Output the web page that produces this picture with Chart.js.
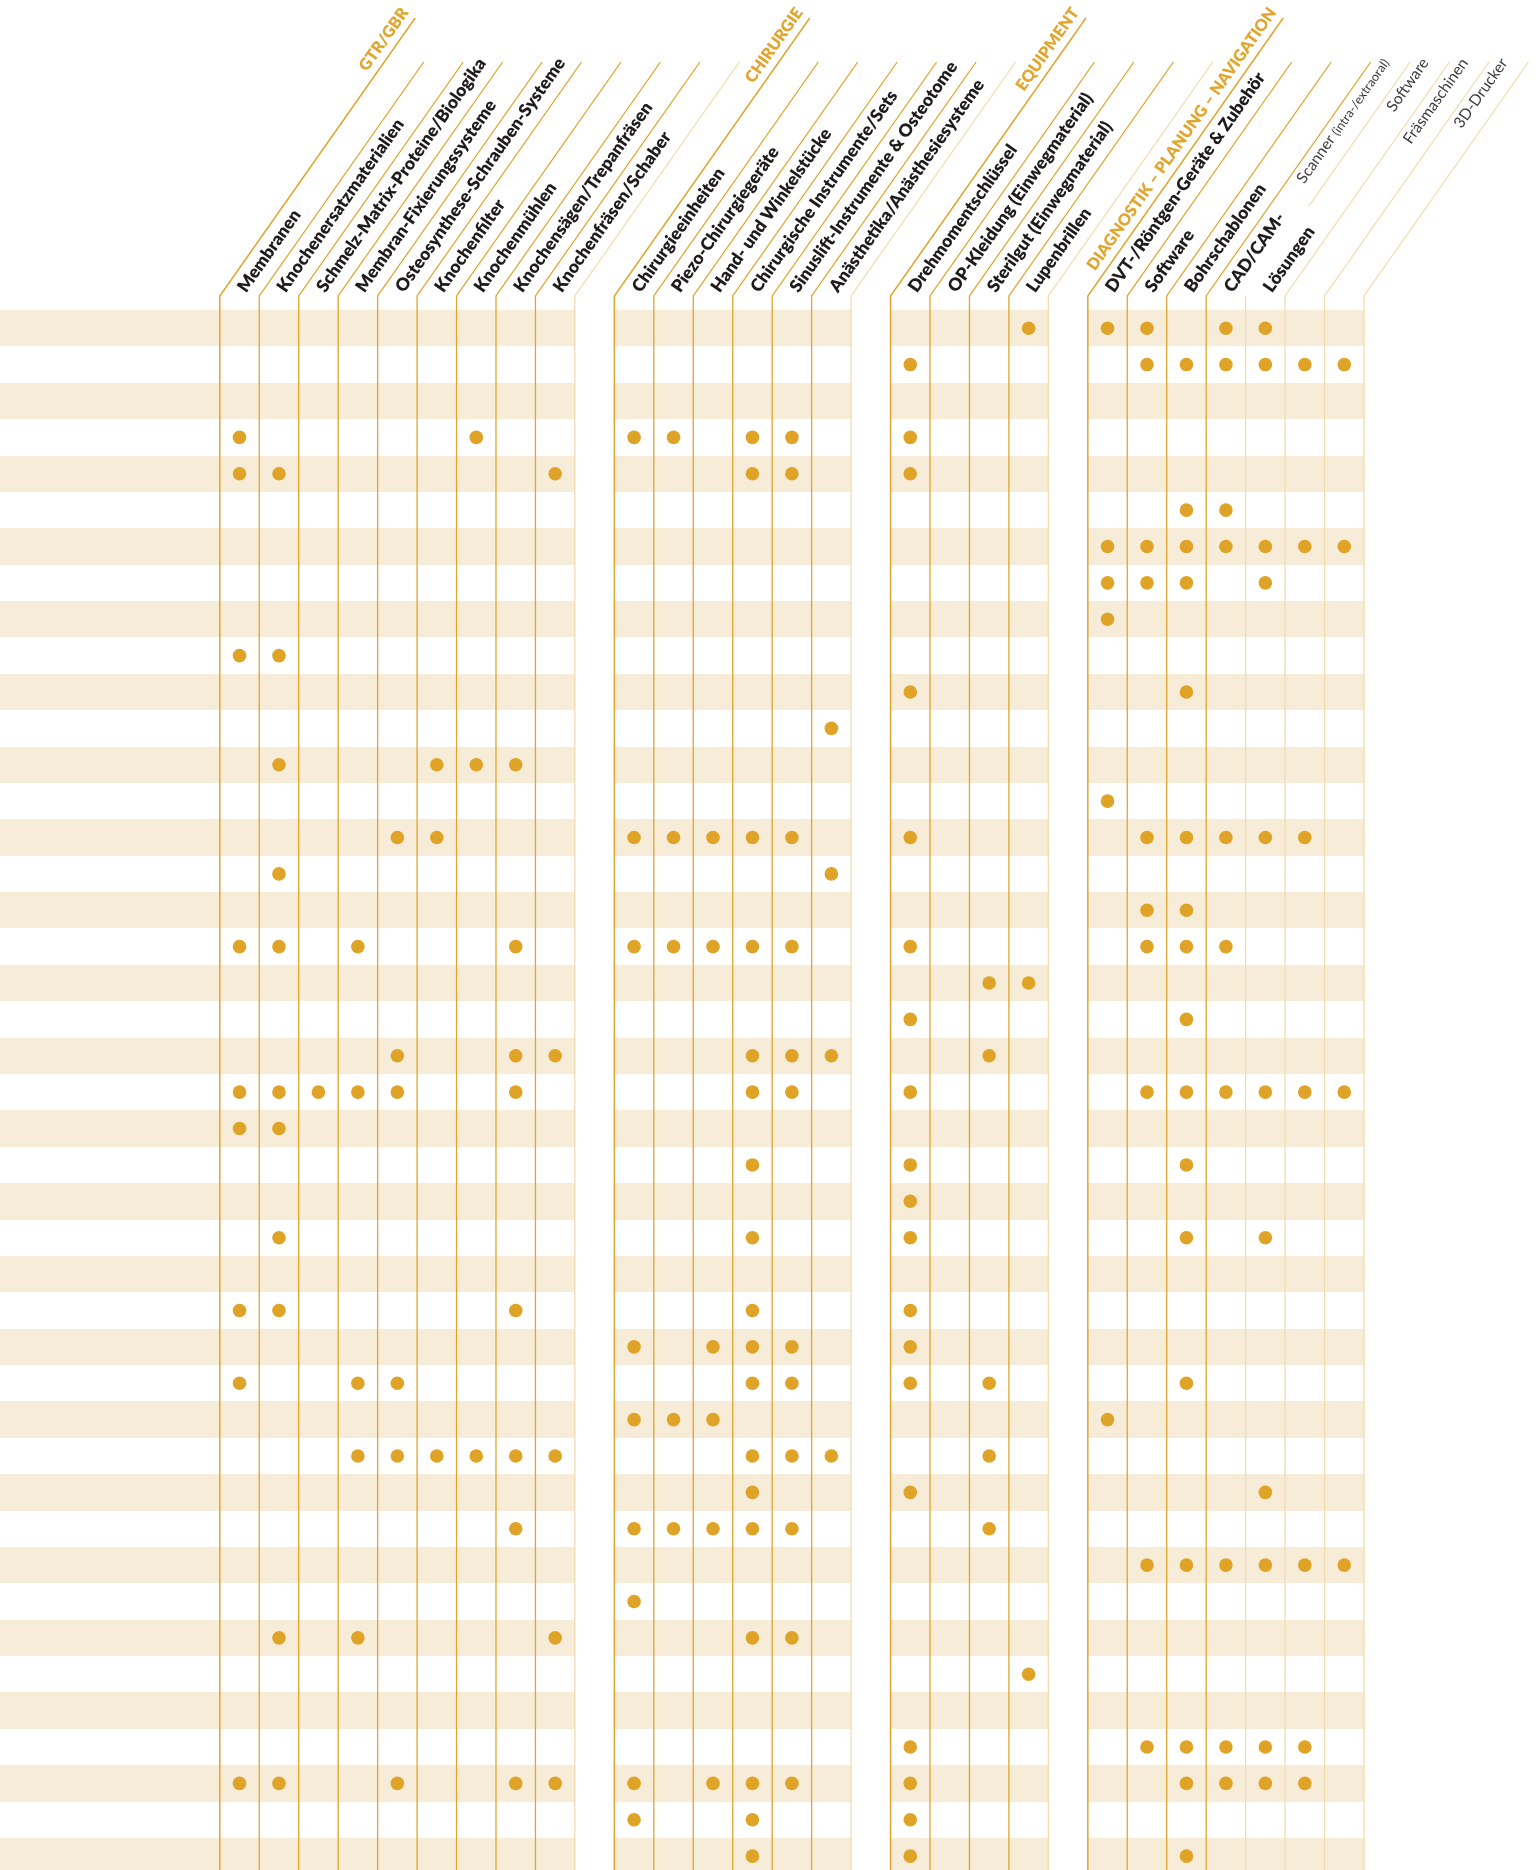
<!DOCTYPE html>
<html>
<head>
<meta charset="utf-8">
<script src="https://cdn.jsdelivr.net/npm/chart.js@4.4.1/dist/chart.umd.min.js"></script>
<style>
html,body{margin:0;padding:0;background:#fff;}
canvas{display:block;}
</style>
</head>
<body>
<canvas id="c" width="1539" height="1870"></canvas>
<script>
// ---------- DATA ----------
const groupNames = ['GTR/GBR', 'CHIRURGIE', 'EQUIPMENT', 'DIAGNOSTIK – PLANUNG – NAVIGATION'];
const groupSizes = [9, 6, 4, 7];
const columnLabels = [
  'Membranen', 'Knochenersatzmaterialien', 'Schmelz-Matrix-Proteine/Biologika', 'Membran-Fixierungssysteme',
  'Osteosynthese-Schrauben-Systeme', 'Knochenfilter', 'Knochenmühlen', 'Knochensägen/Trepanfräsen', 'Knochenfräsen/Schaber',
  'Chirurgieeinheiten', 'Piezo-Chirurgiegeräte', 'Hand- und Winkelstücke', 'Chirurgische Instrumente/Sets',
  'Sinuslift-Instrumente & Osteotome', 'Anästhetika/Anästhesiesysteme',
  'Drehmomentschlüssel', 'OP-Kleidung (Einwegmaterial)', 'Sterilgut (Einwegmaterial)', 'Lupenbrillen',
  'DVT-/Röntgen-Geräte & Zubehör', 'Software', 'Bohrschablonen',
  'Scanner (intra-/extraoral)', 'Software', 'Fräsmaschinen', '3D-Drucker'
];
const subColumns = [22, 23, 24, 25];          // CAD/CAM sub-items (light labels)
const subGroupLabel = ['CAD/CAM-', 'Lösungen'];
// each row: indices of columns that carry a dot
const rows = [
  [18,19,20,22,23],
  [15,20,21,22,23,24,25],
  [],
  [0,6,9,10,12,13,15],
  [0,1,8,12,13,15],
  [21,22],
  [19,20,21,22,23,24,25],
  [19,20,21,23],
  [19],
  [0,1],
  [15,21],
  [14],
  [1,5,6,7],
  [19],
  [4,5,9,10,11,12,13,15,20,21,22,23,24],
  [1,14],
  [20,21],
  [0,1,3,7,9,10,11,12,13,15,20,21,22],
  [17,18],
  [15,21],
  [4,7,8,12,13,14,17],
  [0,1,2,3,4,7,12,13,15,20,21,22,23,24,25],
  [0,1],
  [12,15,21],
  [15],
  [1,12,15,21,23],
  [],
  [0,1,7,12,15],
  [9,11,12,13,15],
  [0,3,4,12,13,15,17,21],
  [9,10,11,19],
  [3,4,5,6,7,8,12,13,14,17],
  [12,15,23],
  [7,9,10,11,12,13,17],
  [20,21,22,23,24,25],
  [9],
  [1,3,8,12,13],
  [18],
  [],
  [15,20,21,22,23,24],
  [0,1,4,7,8,9,11,12,13,15,21,22,23,24],
  [9,12,15],
  [12,15,21]
];

// ---------- derived structure ----------
const groupOfCol = [];
groupSizes.forEach((n, g) => { for (let i = 0; i < n; i++) groupOfCol.push(g); });
const slotOfCol = c => c + groupOfCol[c];
const totalSlots = groupSizes.reduce((a, b) => a + b, 0) + groupSizes.length - 1;
const groupStartSlot = [];
{ let s = 0; groupSizes.forEach(n => { groupStartSlot.push(s); s += n + 1; }); }

const points = [];
rows.forEach((cols, r) => cols.forEach(c => points.push({ x: slotOfCol(c) + 0.5, y: r + 0.5 })));

// ---------- styling ----------
const GOLD = '#DFA427';
const LINE_GOLD = '#E0A52E';
const LINE_PALE = '#F3DCAE';
const STRIPE = '#F7ECD8';
const TEXT = '#1E1B1C';
const ANG = 54.9 * Math.PI / 180;
const ux = Math.cos(ANG), uy = -Math.sin(ANG), nx = Math.sin(ANG), ny = Math.cos(ANG);
const ROW_PX = 36.38;
const BOLD_FONT = '800 17.5px Lato';

const headerPlugin = {
  id: 'header',
  beforeDatasetsDraw(chart) {
    const { ctx, chartArea: ca, scales: { x, y } } = chart;
    const bendY = ca.top - 14;
    ctx.save();
    // stripes
    ctx.fillStyle = STRIPE;
    for (let r = 0; r < rows.length; r += 2) {
      const y0 = Math.round(y.getPixelForValue(r)), y1 = Math.round(y.getPixelForValue(r + 1));
      ctx.fillRect(0, y0, x.getPixelForValue(0), y1 - y0);
      groupSizes.forEach((n, g) => {
        const a = x.getPixelForValue(groupStartSlot[g]), b = x.getPixelForValue(groupStartSlot[g] + n);
        ctx.fillRect(a, y0, b - a, y1 - y0);
      });
    }
    // lines
    const aTop = (bendY - 62) / -uy;
    const aGroup = (bendY - 18) / -uy;
    const subSlots = subColumns.map(slotOfCol);
    ctx.font = BOLD_FONT;
    const hideEnd = Math.max(...subGroupLabel.map(t => ctx.measureText(t).width)) + 18;
    const inGroup = s => groupStartSlot.some((st, g) => s >= st && s < st + groupSizes[g]);
    for (let k = 0; k <= totalSlots; k++) {
      if (!inGroup(k - 1) && !inGroup(k)) continue;
      const isStart = groupStartSlot.includes(k);
      const isEnd = groupStartSlot.some((s, g) => s + groupSizes[g] === k);
      const pale = isEnd || (subSlots.includes(k - 1) && subSlots.includes(k));
      const xk = x.getPixelForValue(k);
      ctx.strokeStyle = pale ? LINE_PALE : LINE_GOLD;
      ctx.lineWidth = isStart ? 1.5 : 1.3;
      const top = isStart ? aGroup : aTop;
      const hidden = (k === subSlots[1]);
      ctx.beginPath();
      ctx.moveTo(xk, ca.bottom + 2);
      ctx.lineTo(xk, bendY);
      if (!hidden) {
        ctx.lineTo(xk + top * ux, bendY + top * uy);
      } else {
        ctx.moveTo(xk + hideEnd * ux, bendY + hideEnd * uy);
        ctx.lineTo(xk + top * ux, bendY + top * uy);
      }
      ctx.stroke();
    }
    ctx.restore();

    // labels
    const along = (text, cx, a, p, align) => {
      ctx.save();
      ctx.translate(cx + a * ux + p * nx, bendY + a * uy + p * ny);
      ctx.rotate(-ANG);
      ctx.textAlign = align;
      ctx.textBaseline = 'alphabetic';
      ctx.fillText(text, 0, 0);
      ctx.restore();
    };
    ctx.save();
    // group names, right-aligned at top of the band left of the group line
    ctx.fillStyle = '#E2A52D';
    ctx.font = '800 16.2px Lato';
    groupNames.forEach((gname, g) => {
      const cx = x.getPixelForValue(groupStartSlot[g] - 0.5);
      along(gname, cx, 352, 8, 'right');
    });
    // column labels
    columnLabels.forEach((lab, c) => {
      const cx = x.getPixelForValue(slotOfCol(c) + 0.5);
      if (subColumns.includes(c)) {
        ctx.fillStyle = '#3a3a3a';
        const aEnd = aTop - 1;
        const m = lab.match(/^(.*?)\s*(\(.*\))$/);
        if (m) {
          ctx.font = '400 12.5px Lato';
          const w2 = ctx.measureText(m[2]).width;
          along(m[2], cx, aEnd, 0, 'right');
          ctx.font = '400 15.5px Lato';
          along(m[1], cx, aEnd - w2 - 4, 0, 'right');
        } else {
          ctx.font = '400 15.5px Lato';
          along(lab, cx, aEnd, 0, 'right');
        }
      } else {
        ctx.fillStyle = TEXT;
        ctx.font = BOLD_FONT;
        along(lab, cx, 6, 4, 'left');
      }
    });
    ctx.fillStyle = TEXT;
    ctx.font = BOLD_FONT;
    subGroupLabel.forEach((t, i) => {
      const cx = x.getPixelForValue(slotOfCol(subColumns[0]) + i + 0.5);
      along(t, cx, 6, 4, 'left');
    });
    ctx.restore();
  }
};

new Chart(document.getElementById('c'), {
  type: 'scatter',
  data: {
    datasets: [{
      data: points,
      pointRadius: 6.8,
      pointHoverRadius: 6.8,
      pointBackgroundColor: GOLD,
      pointBorderWidth: 0,
      showLine: false,
      clip: false
    }]
  },
  options: {
    responsive: false,
    devicePixelRatio: 1,
    animation: false,
    layout: { autoPadding: false, padding: { left: 219.8, right: 175, top: 310, bottom: 0 } },
    plugins: { legend: { display: false }, tooltip: { enabled: false } },
    scales: {
      x: { type: 'linear', min: 0, max: totalSlots, display: false },
      y: { type: 'linear', min: 0, max: (1870 - 310) / ROW_PX, reverse: true, display: false }
    }
  },
  plugins: [headerPlugin]
});
</script>
</body>
</html>
